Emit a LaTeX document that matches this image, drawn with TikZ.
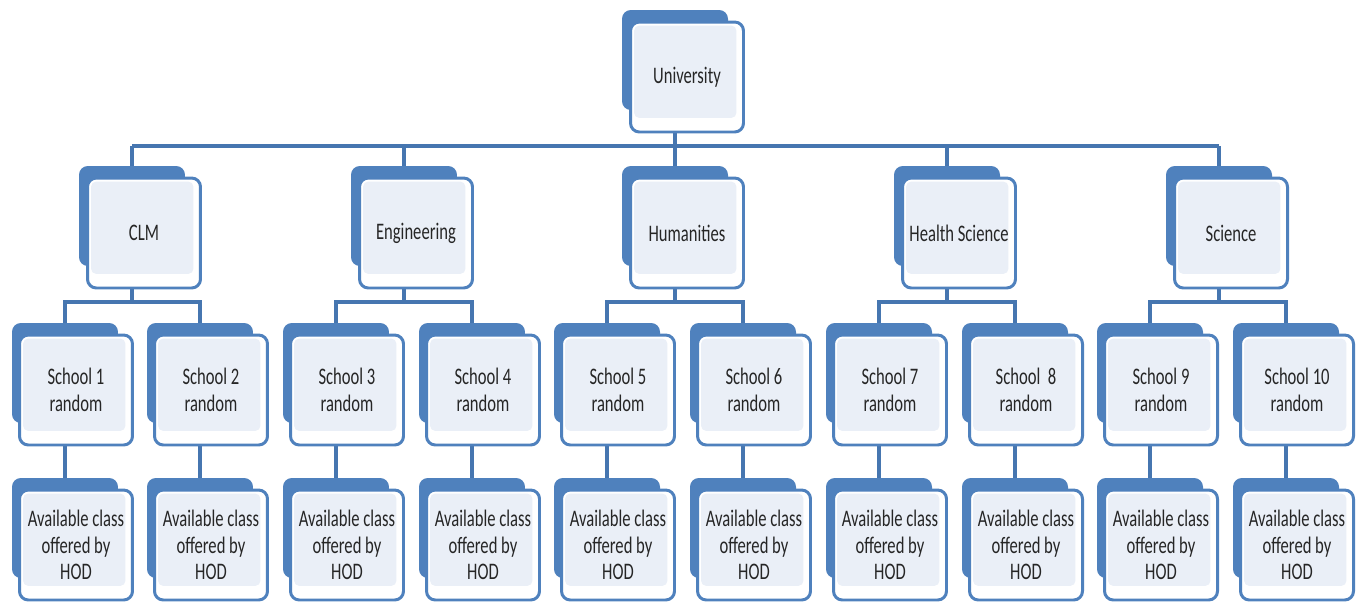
\documentclass[tikz,border=0pt]{standalone}
\usepackage{fontspec}
\setmainfont[FakeStretch=0.7]{Carlito}
\usetikzlibrary{positioning,backgrounds}
\definecolor{boxblue}{HTML}{4F81BD}
\definecolor{boxlight}{HTML}{EAEFF7}
\definecolor{linkblue}{HTML}{4676B0}
\definecolor{txtgray}{HTML}{262626}
\begin{document}
\begin{tikzpicture}[x=0.02cm, y=-0.02cm, line join=round, line cap=round,
	back/.style={fill=boxblue, rounded corners=5pt, minimum width=2.12cm, minimum height=2cm, inner sep=0pt},
	front/.style={draw=boxblue, line width=1.7pt, fill=white, rounded corners=5pt,
		minimum width=2.26cm, minimum height=2.2cm, inner sep=0pt, align=center,
		text=txtgray, font=\fontsize{13.5}{15}\selectfont,
		path picture={\fill[boxlight, rounded corners=3pt]
			([shift={(2pt,-2pt)}]path picture bounding box.north west) rectangle
			([shift={(-4pt,8pt)}]path picture bounding box.south east);}},
	link/.style={draw=linkblue, line width=2.2pt}]
	\useasboundingbox (0,0) rectangle (1364,603);
	% top
	\node[back] (uni) at (675,60) {};
	\node[front] (uni-f) at ([shift={(0.24cm,-0.34cm)}]uni.center) {University};
	% faculties
	\foreach \f/\x/\t in {clm/132/CLM, eng/404/Engineering, hum/675/Humanities, hea/947/Health Science, sci/1219/Science}{
		\node[back] (\f) at (\x,216) {};
		\node[front] (\f-f) at ([shift={(0.24cm,-0.34cm)}]\f.center) {\t};}
	% schools and classes
	\foreach \i/\x/\s in {1/65/School 1, 2/200/School 2, 3/336/School 3, 4/472/School 4, 5/607/School 5,
		6/743/School 6, 7/879/School 7, 8/1015/School\ \ 8, 9/1150/School 9, 10/1286/School 10}{
		\node[back] (school\i) at (\x,373) {};
		\node[front] (school\i-f) at ([shift={(0.22cm,-0.34cm)}]school\i.center) {\s\\random};
		\node[back] (class\i) at (\x,528) {};
		\node[front] (class\i-f) at ([shift={(0.22cm,-0.34cm)}]class\i.center) {Available class\\offered by\\HOD};}
	% connectors
	\begin{scope}[on background layer]
		\coordinate (bus) at (675,146);
		\draw[link] (uni.center) -- (bus);
		\draw[link] (clm.center |- bus) -- (sci.center |- bus);
		\foreach \f in {clm,eng,hum,hea,sci}
			\draw[link] (\f.center |- bus) -- (\f.center);
		\foreach \f/\a/\b in {clm/1/2, eng/3/4, hum/5/6, hea/7/8, sci/9/10}{
			\draw[link] (\f.center) -- ++(0,86);
			\draw[link] (school\a.center) -- ++(0,-71) -| (school\b.center);}
		\foreach \i in {1,...,10}
			\draw[link] (school\i.center) -- (class\i.center);
	\end{scope}
\end{tikzpicture}
\end{document}
